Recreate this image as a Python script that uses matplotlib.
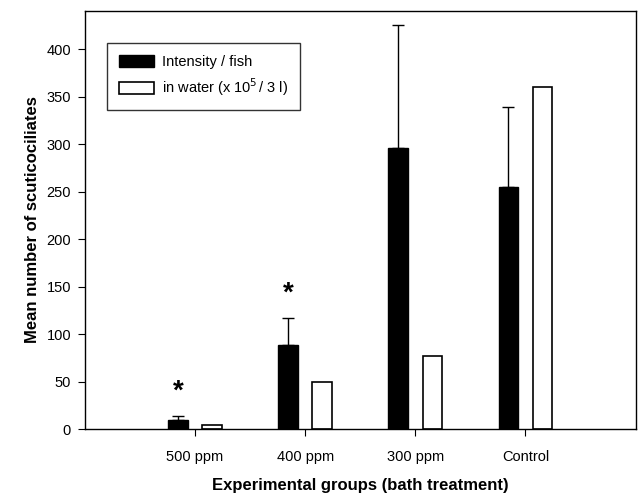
import matplotlib
matplotlib.use("Agg")
import matplotlib.pyplot as plt
import numpy as np

plt.rcParams['font.family'] = ['Liberation Sans', 'DejaVu Sans']

groups = ["500 ppm", "400 ppm", "300 ppm", "Control"]
intensity = [9, 88, 296, 255]
intensity_err = [5, 29, 129, 84]
water = [4.5, 49, 77, 360]
stars = [39, 142]   # height of the * above first two groups

fig = plt.figure(figsize=(6.41, 4.97), dpi=100)
ax = fig.add_axes([0.1326, 0.1368, 0.859, 0.841])

x = np.arange(len(groups))
w = 0.18
off = 0.155

ax.bar(x - off, intensity, w, color='black', edgecolor='black', linewidth=1,
       label='Intensity / fish')
ax.bar(x + off, water, w, color='white', edgecolor='black', linewidth=1.2,
       label=r'in water (x 10$^5\!$ / 3 l)')
ax.errorbar(x - off, intensity, yerr=[np.zeros(len(groups)), intensity_err],
            fmt='none', ecolor='black', elinewidth=1, capsize=4.5, capthick=1)

for i, s in enumerate(stars):
    ax.text(x[i] - off, s, '*', ha='center', va='center', fontsize=20,
            fontweight='bold')

ax.set_xlim(-1, 4)
ax.set_ylim(0, 440)
ax.set_xticks(x)
ax.set_xticklabels(groups, fontsize=10.5)
ax.set_yticks(np.arange(0, 401, 50))
ax.tick_params(axis='y', labelsize=10.5, direction='out', length=5, pad=5)
ax.tick_params(axis='x', direction='out', length=5, pad=10)
for sp in ax.spines.values():
    sp.set_linewidth(1)

ax.set_ylabel('Mean number of scuticociliates', fontsize=12, fontweight='bold',
              labelpad=5)
ax.set_xlabel('Experimental groups (bath treatment)', fontsize=12,
              fontweight='bold', labelpad=10)

leg = ax.legend(loc='upper left', bbox_to_anchor=(0.04, 0.923), fontsize=10.5,
                frameon=True, fancybox=False, edgecolor='black',
                borderaxespad=0, handlelength=2.45, handleheight=0.9,
                borderpad=0.8, labelspacing=0.5, handletextpad=0.55)
leg.get_frame().set_linewidth(1)

fig.savefig("out.png", dpi=100)
